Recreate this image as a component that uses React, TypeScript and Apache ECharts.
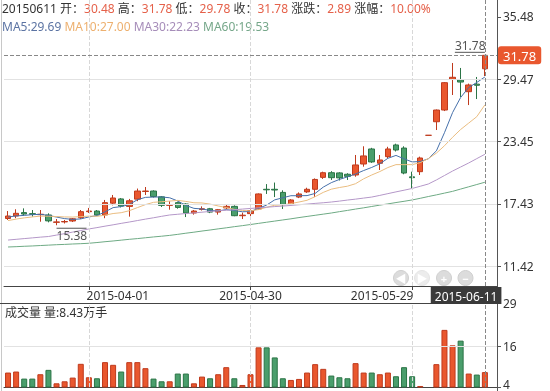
import React, { useEffect, useRef } from 'react';
import * as echarts from 'echarts';

const dates = [
  '2015-03-18','2015-03-19','2015-03-20','2015-03-23','2015-03-24','2015-03-25','2015-03-26','2015-03-27','2015-03-30','2015-03-31',
  '2015-04-01','2015-04-02','2015-04-03','2015-04-07','2015-04-08','2015-04-09','2015-04-10','2015-04-13','2015-04-14','2015-04-15',
  '2015-04-16','2015-04-17','2015-04-20','2015-04-21','2015-04-22','2015-04-23','2015-04-24','2015-04-27','2015-04-28','2015-04-29',
  '2015-04-30','2015-05-04','2015-05-05','2015-05-06','2015-05-07','2015-05-08','2015-05-11','2015-05-12','2015-05-13','2015-05-14',
  '2015-05-15','2015-05-18','2015-05-19','2015-05-20','2015-05-21','2015-05-22','2015-05-25','2015-05-26','2015-05-27','2015-05-28',
  '2015-05-29','2015-06-01','2015-06-02','2015-06-03','2015-06-04','2015-06-05','2015-06-08','2015-06-09','2015-06-10','2015-06-11'
];
const opens = [
  16.03,16.27,16.60,16.50,16.40,16.37,15.66,15.70,15.79,16.10,
  16.69,16.75,16.37,17.51,17.92,17.20,17.90,18.64,18.68,18.12,
  17.30,17.56,17.43,16.56,16.90,16.97,16.65,17.05,17.20,16.30,
  16.50,16.95,18.85,18.85,18.55,17.43,18.10,18.60,18.85,20.00,
  20.45,20.43,20.30,20.23,21.29,22.74,21.36,22.00,23.13,22.83,
  20.05,20.55,24.06,25.37,26.50,29.46,29.40,28.27,29.00,30.48
];
const closes = [
  16.27,16.53,16.46,16.44,16.44,15.80,15.70,15.74,16.00,16.69,
  16.75,16.37,17.56,18.01,17.23,17.74,18.68,18.68,18.15,17.30,
  17.36,17.10,16.56,16.75,16.97,16.65,16.88,17.20,16.30,16.35,
  16.80,18.40,18.80,18.78,17.36,17.82,18.40,18.85,19.80,20.45,
  19.97,19.95,20.10,21.20,22.07,21.49,21.68,22.74,22.64,20.42,
  19.97,21.87,24.06,26.50,29.14,29.66,29.20,28.92,28.89,31.78
];
const lows = [
  15.89,16.06,16.30,16.21,15.72,15.66,15.38,15.55,15.69,15.98,
  16.56,16.30,16.06,17.30,17.10,16.21,17.70,18.30,18.05,17.14,
  16.88,16.98,16.17,16.40,16.80,16.55,16.40,16.95,16.25,15.98,
  16.17,16.90,18.40,18.10,16.95,17.30,18.00,18.50,18.10,19.85,
  19.75,19.70,19.75,20.06,21.03,21.40,20.71,21.85,22.50,20.30,
  18.97,20.23,24.06,24.57,26.40,27.95,27.76,26.98,27.56,29.78
];
const highs = [
  16.75,16.92,17.01,16.85,16.85,16.53,15.98,15.89,16.08,16.85,
  17.05,16.85,17.82,18.30,18.01,17.92,18.92,19.07,18.75,18.20,
  17.70,17.65,17.50,16.85,17.20,17.05,16.95,17.40,17.30,16.60,
  16.90,18.45,19.35,19.50,18.75,17.90,18.55,19.00,19.90,20.55,
  20.60,20.50,20.40,22.16,23.00,22.85,22.16,22.95,23.25,23.00,
  20.55,22.00,24.06,26.55,29.20,31.04,30.56,29.05,29.69,31.78
];
// volume in 万手
const volumes = [
  8.3,8.6,6.5,6.5,7.8,9.1,5.1,5.7,6.8,10.9,
  6.9,6.6,11.4,10.6,8.6,11.4,11.4,9.6,6.5,5.7,
  5.7,8.0,8.0,5.1,7.1,6.6,7.8,9.9,6.6,4.6,
  7.8,15.8,15.8,12.8,6.6,6.1,6.4,8.3,10.8,9.4,
  7.4,6.9,6.6,11.1,8.3,8.3,7.8,8.3,7.2,9.9,
  7.2,4.3,4.05,10.8,21.0,16.4,17.8,8.0,7.7,8.43
];
// closes of the 9 sessions before the first shown day (needed for MA5 / MA10)
const priorCloses = [15.10,15.30,15.50,15.60,15.90,16.00,16.20,16.10,16.30];
const ma30 = [
  13.95,14.02,14.09,14.16,14.23,14.29,14.43,14.57,14.72,14.87,
  15.02,15.15,15.29,15.42,15.56,15.69,15.83,15.97,16.10,16.24,
  16.37,16.44,16.51,16.57,16.64,16.71,16.77,16.83,16.88,16.94,
  17.00,17.06,17.12,17.18,17.23,17.29,17.36,17.42,17.49,17.55,
  17.62,17.71,17.81,17.90,18.00,18.10,18.26,18.43,18.60,18.76,
  18.93,19.14,19.36,19.75,20.18,20.61,21.00,21.39,21.81,22.23
];
const ma60 = [
  13.28,13.31,13.35,13.38,13.42,13.46,13.50,13.53,13.57,13.60,
  13.64,13.71,13.79,13.86,13.94,14.02,14.09,14.17,14.25,14.32,
  14.40,14.50,14.61,14.71,14.82,14.92,15.03,15.13,15.24,15.34,
  15.45,15.56,15.67,15.78,15.89,16.00,16.12,16.23,16.34,16.45,
  16.56,16.69,16.81,16.94,17.06,17.19,17.32,17.44,17.57,17.69,
  17.82,17.98,18.15,18.31,18.48,18.65,18.87,19.09,19.31,19.53
];
const priceTicks = [11.42, 17.43, 23.45, 29.47, 35.48];
const volumeTicks = [4, 16, 29];
const labelIndexes = [10, 30, 50];

const UP = '#E9572E';
const UP_B = '#BF3A1D';
const DOWN = '#4A9E6C';
const DOWN_B = '#2B7446';
const C_MA5 = '#4670AA';
const C_MA10 = '#EABD80';
const C_MA30 = '#B497C8';
const C_MA60 = '#6EAA84';
const FONT = '"Noto Sans", "Noto Sans CJK SC", sans-serif';

function movingAvg(n: number): number[] {
  const all = priorCloses.concat(closes);
  const off = priorCloses.length;
  return closes.map((_, i) => {
    let s = 0;
    for (let k = i + off - n + 1; k <= i + off; k++) s += all[k];
    return +(s / n).toFixed(2);
  });
}

function isUp(i: number): boolean {
  if (closes[i] !== opens[i]) return closes[i] > opens[i];
  return i === 0 ? true : closes[i] >= closes[i - 1];
}

export default function App() {
  const ref = useRef<HTMLDivElement>(null);
  useEffect(() => {
    if (!ref.current) return;
    const chart = echarts.init(ref.current, undefined, { renderer: 'svg' });
    const ma5 = movingAvg(5);
    const ma10 = movingAvg(10);
    const n = dates.length;
    const last = n - 1;
    const chg = closes[last] - closes[last - 1];
    const pct = (chg / closes[last - 1]) * 100;
    const candleData = dates.map((_, i) => [opens[i], closes[i], lows[i], highs[i]]);
    const volData = volumes.map((v, i) => ({
      value: v,
      itemStyle: { color: isUp(i) ? UP : DOWN, borderColor: isUp(i) ? UP_B : DOWN_B, borderWidth: 1 },
    }));
    let minIdx = 0, maxIdx = 0;
    lows.forEach((v, i) => { if (v < lows[minIdx]) minIdx = i; });
    highs.forEach((v, i) => { if (v > highs[maxIdx]) maxIdx = i; });
    const isLabel = (i: number) => labelIndexes.indexOf(i) >= 0;

    const head1 =
      `{d|${dates[last].replace(/-/g, '')}} {l|开：}{v|${opens[last].toFixed(2)}} {l|高：}{v|${highs[last].toFixed(2)}} ` +
      `{l|低：}{v|${lows[last].toFixed(2)}} {l|收：}{v|${closes[last].toFixed(2)}} {l|涨跌：}{v|${chg.toFixed(2)}} ` +
      `{l|涨幅：}{v|${pct.toFixed(2)}%}`;
    const head2 =
      `{a|MA5:${ma5[last].toFixed(2)}} {b|MA10:${ma10[last].toFixed(2)}} {c|MA30:${ma30[last].toFixed(2)}} {e|MA60:${ma60[last].toFixed(2)}}`;

    const vLines = labelIndexes.map((i) => ({ xAxis: i }));
    const btn = (cx: number, glyph: string, light: boolean) => ({
      type: 'group',
      children: [
        { type: 'circle', shape: { cx, cy: 278, r: 7.5 }, style: { fill: light ? '#ececec' : '#dcdcdc', stroke: light ? '#e4e4e4' : '#cfcfcf', lineWidth: 1 } },
        { type: 'text', x: cx, y: 278, style: { text: glyph, fill: '#fff', font: `bold 11px ${FONT}`, align: 'center', verticalAlign: 'middle' } },
      ],
    });

    chart.setOption({
      animation: false,
      textStyle: { fontFamily: FONT },
      grid: [
        { left: 4, right: 53, top: 0, height: 286 },
        { left: 4, right: 53, top: 303, height: 84 },
      ],
      xAxis: [
        {
          type: 'category', gridIndex: 0, data: dates, max: n, boundaryGap: true,
          axisLine: { show: true, lineStyle: { color: '#444' } },
          axisTick: { show: true, alignWithLabel: true, length: 4, interval: (i: number) => isLabel(i), lineStyle: { color: '#444' } },
          axisLabel: {
            interval: (i: number) => isLabel(i), margin: 3, color: '#333', fontSize: 12,
            formatter: (v: string, i: number) => (i === 10 ? `{l|${v}}` : i === 50 ? `{r|${v}}` : `{c|${v}}`),
            rich: {
              l: { padding: [0, 0, 0, 58], fontSize: 12, color: '#333' },
              c: { fontSize: 12, color: '#333' },
              r: { padding: [0, 60, 0, 0], fontSize: 12, color: '#333' },
            },
          },
          splitLine: { show: false },
          axisPointer: {
            show: true, type: 'line', value: last, status: 'show', triggerTooltip: false,
            lineStyle: { color: '#888', type: 'dashed', width: 1 },
            label: {
              show: true, margin: 1, backgroundColor: 'transparent', padding: 0,
              formatter: () => `{a|${dates[last]}}{b|}`,
              rich: {
                a: { backgroundColor: '#3a3a3a', color: '#fff', fontSize: 12, padding: [3, 4, 2, 4] },
                b: { width: 45 },
              },
            },
          },
        },
        {
          type: 'category', gridIndex: 1, data: dates, max: n, boundaryGap: true,
          axisLine: { show: true, lineStyle: { color: '#444' } },
          axisTick: { show: false }, axisLabel: { show: false }, splitLine: { show: false },
          axisPointer: {
            show: true, type: 'line', value: last, status: 'show', triggerTooltip: false,
            lineStyle: { color: '#888', type: 'dashed', width: 1 },
            label: { show: false },
          },
        },
      ],
      yAxis: [
        {
          type: 'value', gridIndex: 0, position: 'right', min: 9.515, max: 37.12,
          axisLine: { show: true, lineStyle: { color: '#555' } },
          axisTick: { show: true, length: 4, customValues: priceTicks, lineStyle: { color: '#555' } },
          axisLabel: { customValues: priceTicks, formatter: (v: number) => v.toFixed(2), color: '#333', fontSize: 12, margin: 6 },
          splitLine: { show: false },
          axisPointer: {
            show: true, type: 'line', value: closes[last], status: 'show', triggerTooltip: false,
            lineStyle: { color: '#888', type: 'dashed', width: 1 },
            label: {
              show: true, margin: 1, backgroundColor: UP, color: '#fff', fontSize: 13, padding: [3, 5, 2, 5],
              formatter: (p: any) => Number(p.value).toFixed(2),
            },
          },
        },
        {
          type: 'value', gridIndex: 1, position: 'right', min: 4, max: 29,
          axisLine: { show: true, lineStyle: { color: '#555' } },
          axisTick: { show: true, length: 4, customValues: volumeTicks, lineStyle: { color: '#555' } },
          axisLabel: {
            customValues: volumeTicks, color: '#333', fontSize: 12, margin: 6,
            formatter: (v: number) => (v === volumeTicks[0] ? `{m|${v}}` : String(v)),
            rich: { m: { fontSize: 12, color: '#333', padding: [0, 0, 6, 0] } },
          },
          splitLine: { show: false },
          axisPointer: { show: false },
        },
      ],
      series: [
        {
          type: 'candlestick', xAxisIndex: 0, yAxisIndex: 0, data: candleData, barWidth: 6,
          itemStyle: { color: UP, color0: DOWN, borderColor: UP_B, borderColor0: DOWN_B, borderWidth: 1 },
          markLine: {
            silent: true, symbol: 'none', label: { show: false },
            data: [
              ...priceTicks.slice(0, 4).map((v) => ({ yAxis: v, lineStyle: { color: '#e2e2e2', type: 'solid', width: 1 } })),
              ...vLines.map((d) => ({ ...d, lineStyle: { color: '#d8d8d8', type: 'dashed', width: 1 } })),
            ],
          },
          z: 3,
        },
        { type: 'line', name: 'MA5', data: ma5, xAxisIndex: 0, yAxisIndex: 0, showSymbol: false, lineStyle: { color: C_MA5, width: 1 }, z: 4 },
        { type: 'line', name: 'MA10', data: ma10, xAxisIndex: 0, yAxisIndex: 0, showSymbol: false, lineStyle: { color: C_MA10, width: 1 }, z: 4 },
        { type: 'line', name: 'MA30', data: ma30, xAxisIndex: 0, yAxisIndex: 0, showSymbol: false, lineStyle: { color: C_MA30, width: 1 }, z: 4 },
        { type: 'line', name: 'MA60', data: ma60, xAxisIndex: 0, yAxisIndex: 0, showSymbol: false, lineStyle: { color: C_MA60, width: 1 }, z: 4 },
        {
          type: 'custom', xAxisIndex: 0, yAxisIndex: 0, z: 6,
          data: [[minIdx, lows[minIdx], 1], [maxIdx, highs[maxIdx], -1]],
          encode: { x: 0, y: 1 },
          renderItem: (params: any, api: any) => {
            const val = api.value(1) as number;
            const dir = api.value(2) as number;
            const p = api.coord([api.value(0), val]);
            const len = 30;
            const ly = dir > 0 ? p[1] + 3 : p[1] - 3;
            const x2 = p[0] + dir * len;
            return {
              type: 'group',
              children: [
                { type: 'line', shape: { x1: p[0], y1: ly, x2, y2: ly }, style: { stroke: '#555', lineWidth: 1 } },
                {
                  type: 'text', x: dir > 0 ? p[0] : x2, y: dir > 0 ? ly + 1 : ly - 1,
                  style: { text: val.toFixed(2), fill: '#555', font: `12px ${FONT}`, align: 'left', verticalAlign: dir > 0 ? 'top' : 'bottom' },
                },
              ],
            };
          },
        },
        {
          type: 'bar', xAxisIndex: 1, yAxisIndex: 1, data: volData, barWidth: 6,
          markLine: {
            silent: true, symbol: 'none', label: { show: false },
            data: [
              { yAxis: 16, lineStyle: { color: '#e2e2e2', type: 'solid', width: 1 } },
              ...vLines.map((d) => ({ ...d, lineStyle: { color: '#d8d8d8', type: 'dashed', width: 1 } })),
            ],
          },
        },
      ],
      graphic: [
        { type: 'line', shape: { x1: 1.5, y1: 0, x2: 1.5, y2: 391 }, style: { stroke: '#c8c8c8', lineWidth: 1 } },
        { type: 'line', shape: { x1: 0, y1: 303.5, x2: 497, y2: 303.5 }, style: { stroke: '#444', lineWidth: 1 } },
        { type: 'line', shape: { x1: 497.5, y1: 0, x2: 497.5, y2: 391 }, style: { stroke: '#555', lineWidth: 1 } },
        {
          type: 'text', x: 2, y: 8,
          style: {
            text: head1, verticalAlign: 'middle', font: `12px ${FONT}`,
            rich: {
              d: { fill: '#333', fontSize: 12, fontFamily: FONT },
              l: { fill: '#333', fontSize: 12, fontFamily: FONT },
              v: { fill: '#E5614A', fontSize: 12, fontFamily: FONT },
            },
          },
        },
        {
          type: 'text', x: 2, y: 26,
          style: {
            text: head2, verticalAlign: 'middle', font: `12px ${FONT}`,
            rich: {
              a: { fill: '#5C74A3', fontSize: 12, fontFamily: FONT },
              b: { fill: '#EDB06F', fontSize: 12, fontFamily: FONT },
              c: { fill: '#A68DB9', fontSize: 12, fontFamily: FONT },
              e: { fill: '#76A78A', fontSize: 12, fontFamily: FONT },
            },
          },
        },
        {
          type: 'text', x: 5, y: 312,
          style: { text: `成交量 量:${volumes[last].toFixed(2)}万手`, fill: '#333', font: `12px ${FONT}`, verticalAlign: 'middle' },
        },
        btn(401, '◀', false),
        btn(422, '▶', true),
        btn(444, '+', false),
        btn(465.5, '−', false),
      ],
    });
    return () => chart.dispose();
  }, []);
  return <div ref={ref} style={{ position: 'fixed', left: 0, top: 0, width: 550, height: 391 }} />;
}
